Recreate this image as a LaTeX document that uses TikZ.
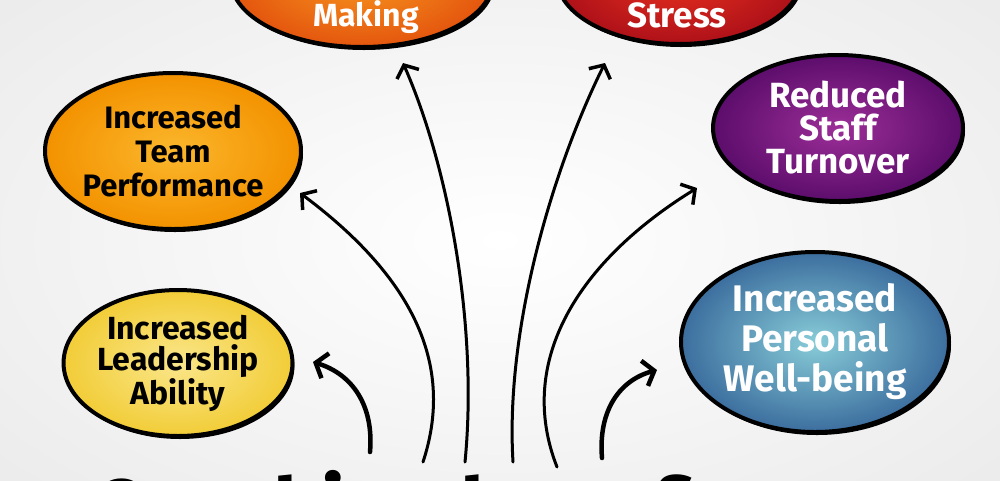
\documentclass[tikz,border=0pt]{standalone}
\usepackage{fontspec}
\setmainfont{Fira Sans}
\usetikzlibrary{shapes.geometric,arrows.meta,shadows}
\definecolor{teamin}{HTML}{FBB72C}
\definecolor{teamout}{HTML}{F39200}
\definecolor{leadin}{HTML}{FAE68A}
\definecolor{leadout}{HTML}{F2CD38}
\definecolor{purpin}{HTML}{9C2E98}
\definecolor{purpout}{HTML}{5C0D6C}
\definecolor{bluein}{HTML}{88CCD8}
\definecolor{blueout}{HTML}{3C6E9E}
\definecolor{makein}{HTML}{F7941E}
\definecolor{makeout}{HTML}{E4560E}
\definecolor{stressin}{HTML}{E8301E}
\definecolor{stressout}{HTML}{AE1119}
\definecolor{bgedge}{HTML}{E2E2E2}
\begin{document}
\begin{tikzpicture}[x=1pt,y=-1pt,
  blob/.style={ellipse, draw=black, line width=4pt, align=center, inner sep=0pt,
    drop shadow={shadow xshift=2pt, shadow yshift=-3pt, fill=black, opacity=1}},
  darktxt/.style={text=black},
  lighttxt/.style={text=white},
  conn/.style={line width=3pt, line cap=round,
    -{Straight Barb[length=10pt,width=24pt,line width=3.5pt]}},
  shortconn/.style={line width=4.5pt, line cap=round,
    -{Straight Barb[length=10pt,width=26pt,line width=4.5pt]}}
]
\useasboundingbox (0,0) rectangle (1000,480);
\clip (0,0) rectangle (1000,480);
\shade[inner color=white, outer color=bgedge] (-500,-300) rectangle (1500,780);

% bottom title (only the tops of its letters are inside the picture)
\node[font=\fontsize{84}{84}\selectfont\bfseries, anchor=base west, inner sep=0pt] (title) at (92,538) {Coaching benefits};

% ellipses
\node[blob, minimum width=256pt, minimum height=156pt, inner color=teamin, outer color=teamout,
      darktxt, font=\fontsize{31}{34}\selectfont\bfseries] (team) at (173,151) {Increased\\Team\\Performance};
\node[blob, minimum width=226pt, minimum height=146pt, inner color=leadin, outer color=leadout,
      darktxt, font=\fontsize{32}{31}\selectfont\bfseries] (lead) at (178,363) {Increased\\Leadership\\Ability};
\node[blob, minimum width=250pt, minimum height=146pt, inner color=purpin, outer color=purpout,
      lighttxt, font=\fontsize{35}{33}\selectfont\bfseries] (staff) at (838,128) {Reduced\\Staff\\Turnover};
\node[blob, minimum width=268pt, minimum height=180pt, inner color=bluein, outer color=blueout,
      lighttxt, font=\fontsize{37}{40}\selectfont\bfseries] (well) at (815,342) {Increased\\Personal\\Well-being};
\node[blob, minimum width=262pt, minimum height=134pt, inner color=makein, outer color=makeout] (make) at (362,-20) {};
\node[lighttxt, font=\fontsize{32}{32}\selectfont\bfseries, anchor=base] (maketxt) at (366,26) {Making};
\node[blob, minimum width=244pt, minimum height=132pt, inner color=stressin, outer color=stressout] (stress) at (679,-22) {};
\node[lighttxt, font=\fontsize{35}{35}\selectfont\bfseries, anchor=base] (stresstxt) at (677,27) {Stress};

% arrow ends
\coordinate (sA) at (423,462); \coordinate (tA) at (300,193);
\coordinate (sB) at (465,462); \coordinate (tB) at (403,63);
\coordinate (sC) at (513,462); \coordinate (tC) at (605,63);
\coordinate (sD) at (557,467); \coordinate (tD) at (697,188);
\coordinate (sE) at (370,452); \coordinate (tE) at (313,362);
\coordinate (sF) at (602,458); \coordinate (tF) at (657,370);

\draw[conn] (sA) .. controls (450,380) and (430,290) .. (tA);
\draw[conn] (sB) .. controls (478,330) and (450,170) .. (tB);
\draw[conn] (sC) .. controls (505,330) and (552,170) .. (tC);
\draw[conn] (sD) .. controls (515,360) and (580,260) .. (tD);
\draw[shortconn] (sE) .. controls (374,405) and (352,374) .. (tE);
\draw[shortconn] (sF) .. controls (598,410) and (620,380) .. (tF);
\end{tikzpicture}
\end{document}
